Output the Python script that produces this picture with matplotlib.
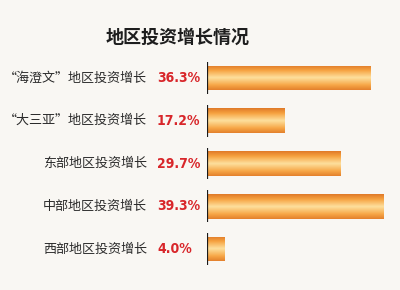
import numpy as np
import matplotlib
matplotlib.use("Agg")
import matplotlib.pyplot as plt
from matplotlib import font_manager
from matplotlib.colors import LinearSegmentedColormap
from matplotlib.transforms import blended_transform_factory

plt.rcParams['font.family'] = ['Noto Sans CJK SC', 'DejaVu Sans']

title = "地区投资增长情况"
categories = ["“海澄文”地区投资增长", "“大三亚”地区投资增长", "东部地区投资增长",
              "中部地区投资增长", "西部地区投资增长"]
values = [36.3, 17.2, 29.7, 39.3, 4.0]
value_labels = ["36.3%", "17.2%", "29.7%", "39.3%", "4.0%"]

# pick a narrow bold face for the percentages if one is installed
narrow_fp = None
for f in font_manager.fontManager.ttflist:
    if ("Narrow" in f.name or "Condensed" in f.name or f.stretch == "condensed"
            or "Condensed" in f.fname) and f.weight in (700, "bold"):
        narrow_fp = font_manager.FontProperties(fname=f.fname)
        break
if narrow_fp is None:
    narrow_fp = font_manager.FontProperties(family="DejaVu Sans", weight="bold",
                                            stretch="condensed")

bg = "#f9f7f3"
fig = plt.figure(figsize=(4.0, 2.9), dpi=100, facecolor=bg)

ax_left, ax_width = 207 / 400, 185 / 400
ax_bottom, ax_height = 19.6 / 290, 213.8 / 290
ax = fig.add_axes([ax_left, ax_bottom, ax_width, ax_height])
ax.set_facecolor("none")
ax.axis("off")

# orange bars with a light band through the middle
grad = LinearSegmentedColormap.from_list(
    "bar", [(0.0, "#e4812c"), (0.2, "#f7a848"), (0.5, "#fde09e"),
            (0.8, "#f6a240"), (1.0, "#e07a28")])
ypos = np.arange(len(values))
bars = ax.barh(ypos, values, height=0.58, color="none", edgecolor="none")
g = np.linspace(0, 1, 64).reshape(-1, 1)
for b in bars:
    x0, y0, w, h = b.get_x(), b.get_y(), b.get_width(), b.get_height()
    im = ax.imshow(g, cmap=grad, aspect="auto", origin="lower",
                   extent=(x0, x0 + w, y0 + h, y0), interpolation="bilinear",
                   zorder=2)
    im.set_clip_path(b)

# black baseline tick at the start of each bar
ax.vlines(np.zeros(len(values)), ypos - 0.37, ypos + 0.37,
          colors="#1a1a1a", linewidth=1.6, zorder=3)
ax.set_xlim(0, 185 / 4.5)
ax.set_ylim(len(values) - 0.5, -0.5)

tr = blended_transform_factory(fig.transFigure, ax.transData)
for i, (cat, lab) in enumerate(zip(categories, value_labels)):
    ax.text(147 / 400, i, cat, transform=tr, ha="right", va="center",
            fontsize=9.4, color="#2b2b2b")
    ax.text(157 / 400, i, lab, transform=tr, ha="left", va="center",
            fontproperties=narrow_fp, fontsize=10, color="#d8262a")

fig.text(178 / 400, 1 - 37 / 290, title, ha="center", va="center",
         fontsize=13, fontweight="bold", color="#1e1e1e")

fig.savefig("out.png", dpi=100, facecolor=bg)
